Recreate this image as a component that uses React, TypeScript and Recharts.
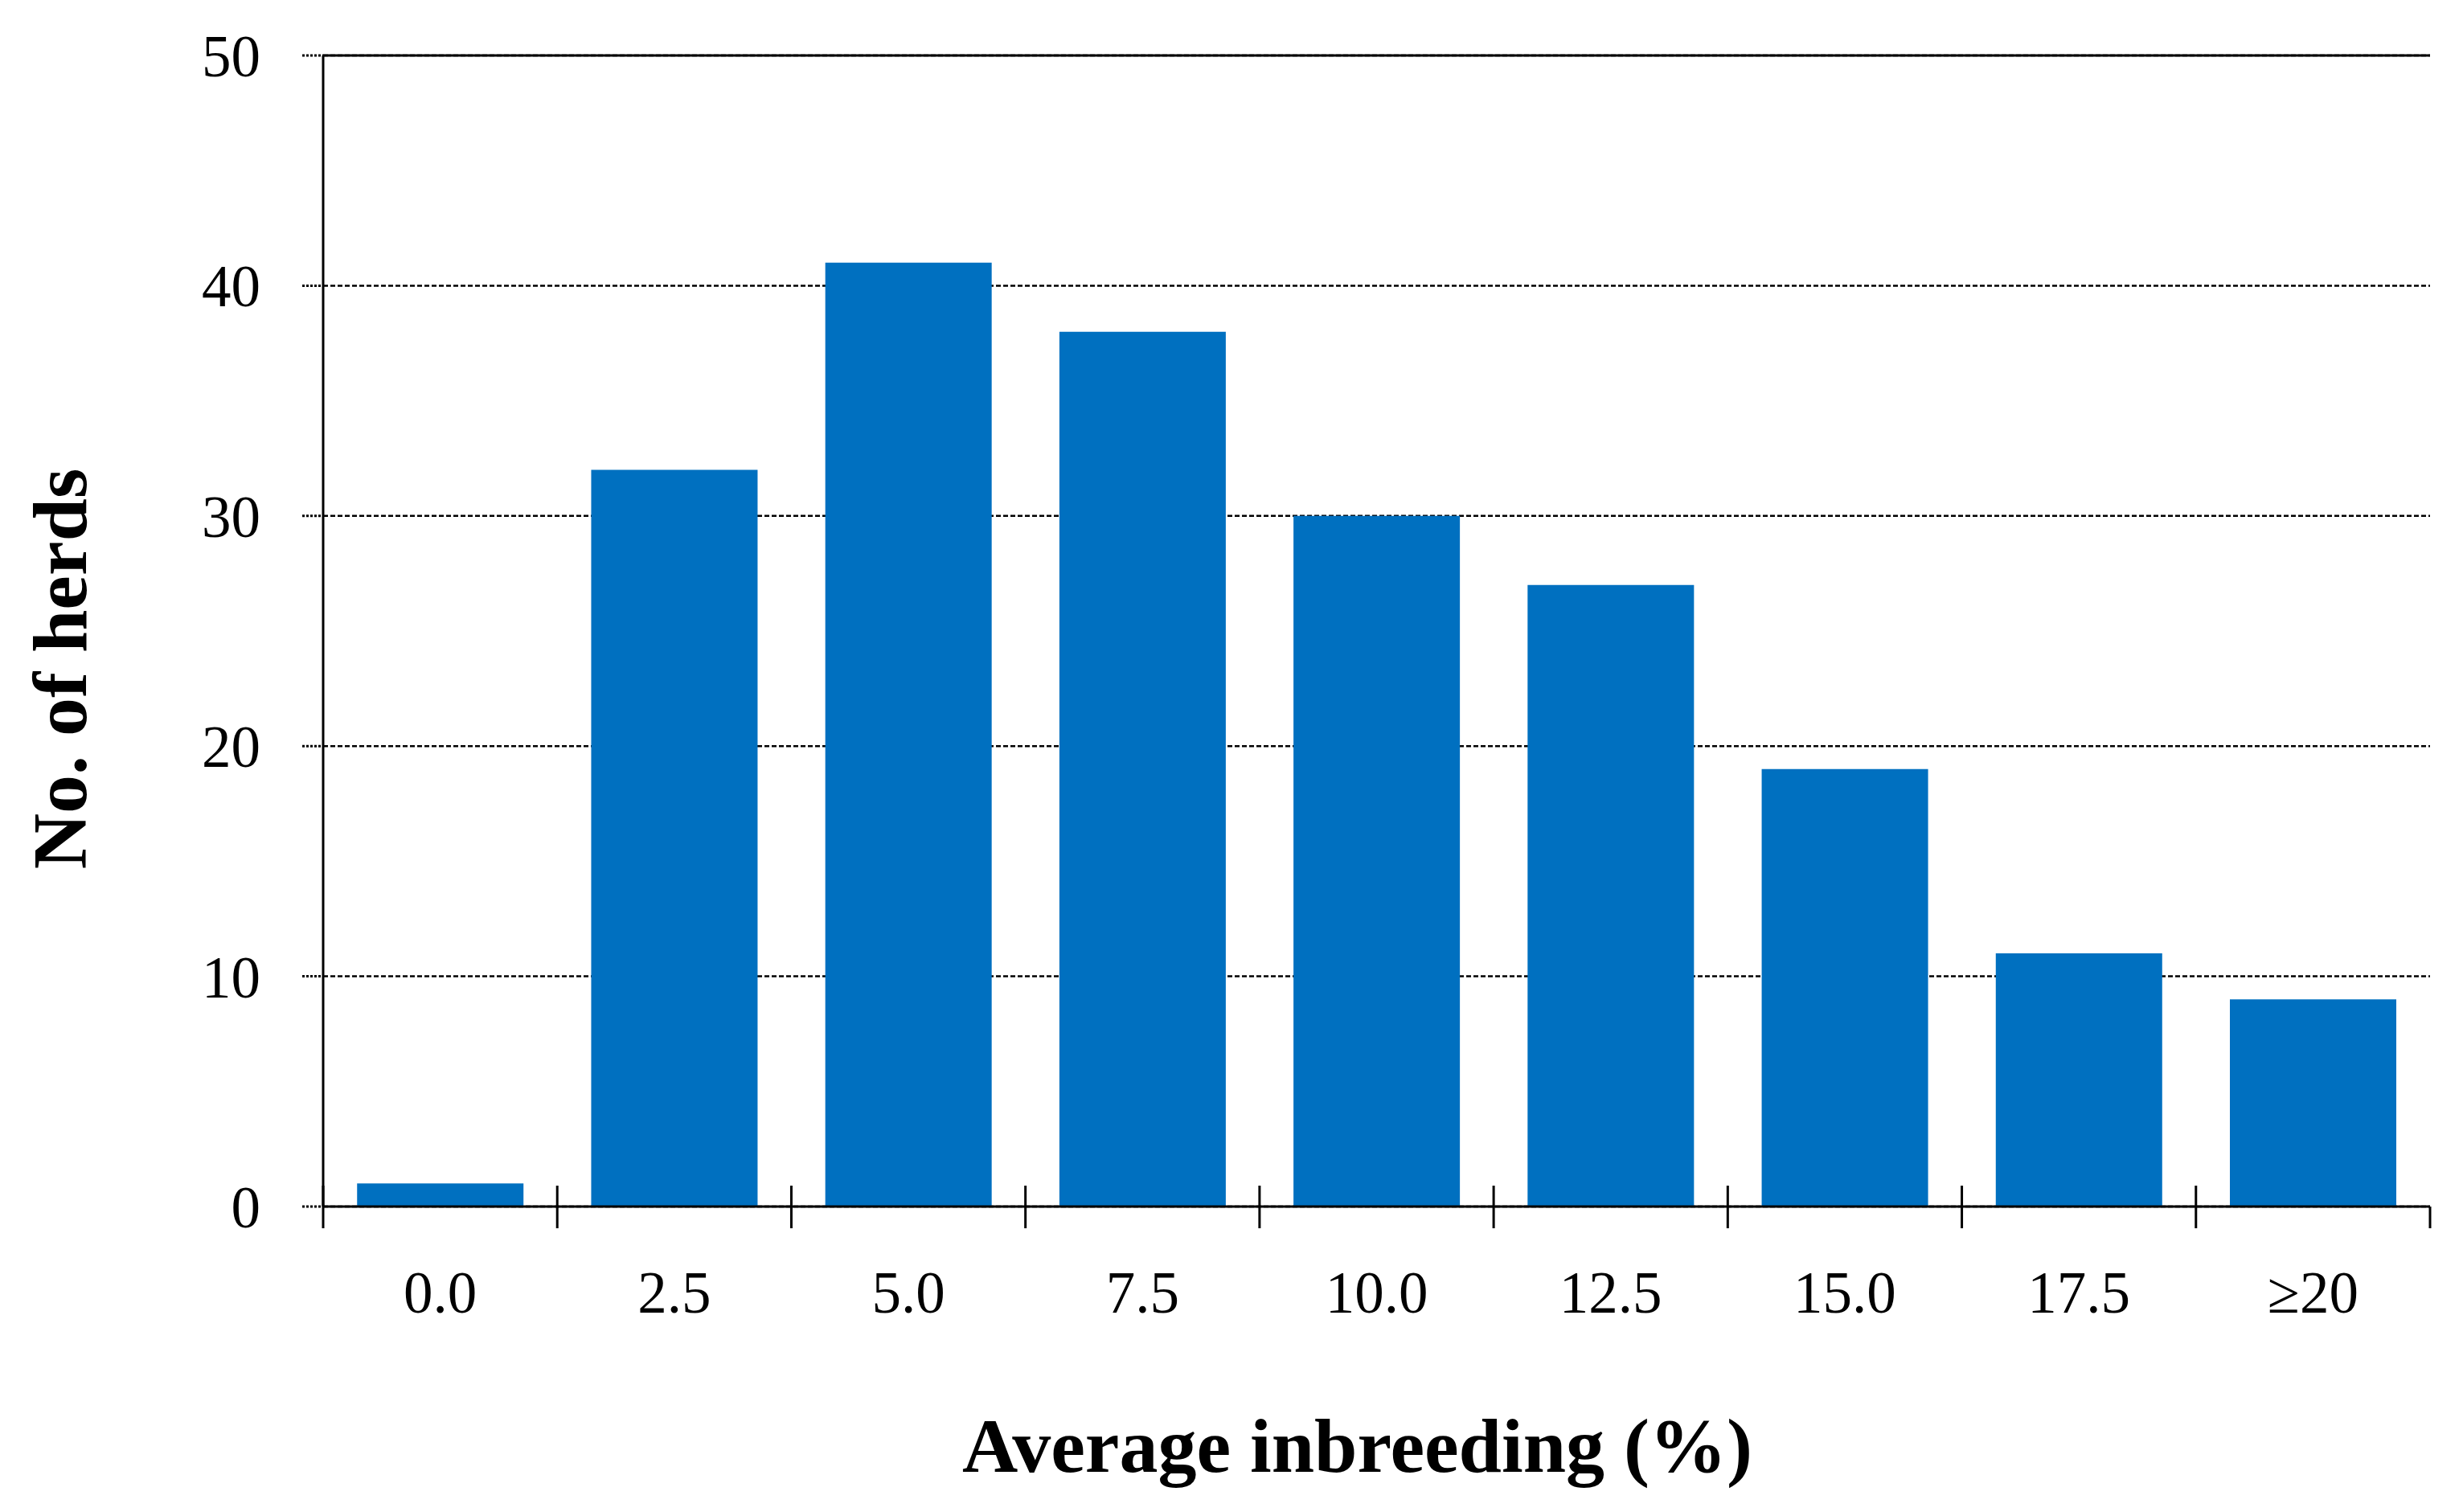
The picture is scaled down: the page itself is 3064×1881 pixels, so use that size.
import React from 'react';
import { BarChart, Bar, XAxis, YAxis, CartesianGrid, ReferenceLine, Label } from 'recharts';

// bins of average inbreeding (%) and number of herds in each
const categories = ['0.0', '2.5', '5.0', '7.5', '10.0', '12.5', '15.0', '17.5', '≥20'];
const herds = [1, 32, 41, 38, 30, 27, 19, 11, 9];
const yTicks = [0, 10, 20, 30, 40, 50];

const data = categories.map((c, i) => ({ bin: c, herds: herds[i] }));

const FONT = "'Palatino Linotype', 'Book Antiqua', Palatino, 'Liberation Serif', serif";
const W = 3040;
const H = 1860;
const margin = { top: 61, right: 25, bottom: 217, left: 0 };
const Y_AXIS_W = 394;
const X_AXIS_H = 150;
const band = (W - margin.left - margin.right - Y_AXIS_W) / categories.length;

const XTick = (props: any) => {
  const { x, y, payload, index } = props;
  const left = x - band / 2;
  const isLast = index === categories.length - 1;
  return (
    <g>
      <line x1={left} x2={left} y1={y - 26} y2={y + 27} stroke="#000" strokeWidth={3} />
      {isLast && (
        <line x1={x + band / 2} x2={x + band / 2} y1={y} y2={y + 27} stroke="#000" strokeWidth={3} />
      )}
      <text x={x} y={y + 132} textAnchor="middle" fontSize={73} fill="#000" fontFamily={FONT}>
        {payload.value}
      </text>
    </g>
  );
};

const XTitle = (props: any) => {
  const vb = props.viewBox;
  return (
    <text
      x={vb.x + vb.width / 2 - 24}
      y={vb.y + 330}
      textAnchor="middle"
      fontSize={96}
      fontWeight="bold"
      fill="#000"
      fontFamily={FONT}
    >
      Average inbreeding (%)
    </text>
  );
};

const YTitle = () => (
  <text
    x={99}
    y={824}
    transform="rotate(-90, 99, 824)"
    textAnchor="middle"
    fontSize={96}
    fontWeight="bold"
    fill="#000"
    fontFamily={FONT}
  >
    No. of herds
  </text>
);

export default function App() {
  return (
    <div style={{ width: W, height: H, background: '#fff' }}>
      <BarChart width={W} height={H} data={data} margin={margin} barCategoryGap="14.5%">
        <CartesianGrid
          horizontal
          vertical={false}
          stroke="#000"
          strokeWidth={2.5}
          strokeDasharray="6 3"
        />
        <XAxis
          dataKey="bin"
          height={X_AXIS_H}
          axisLine={{ stroke: '#000', strokeWidth: 3 }}
          tickLine={false}
          tickSize={0}
          tickMargin={0}
          tick={<XTick />}
          interval={0}
        >
          <Label content={<XTitle />} />
        </XAxis>
        <YAxis
          width={Y_AXIS_W}
          domain={[0, 50]}
          ticks={yTicks}
          interval={0}
          axisLine={{ stroke: '#000', strokeWidth: 3 }}
          tickLine={{ stroke: '#000', strokeWidth: 3, strokeDasharray: '3 2' }}
          tickSize={26}
          tickMargin={52}
          tick={{ fontSize: 73, fill: '#000', fontFamily: FONT }}
        >
          <Label content={<YTitle />} />
        </YAxis>
        <YAxis
          yAxisId="right"
          orientation="right"
          width={0}
          domain={[0, 50]}
          tick={false}
          tickLine={false}
          axisLine={{ stroke: '#000', strokeWidth: 3 }}
        />
        <ReferenceLine y={50} stroke="#000" strokeWidth={3} />
        <Bar dataKey="herds" fill="#0070C0" isAnimationActive={false} />
      </BarChart>
    </div>
  );
}
